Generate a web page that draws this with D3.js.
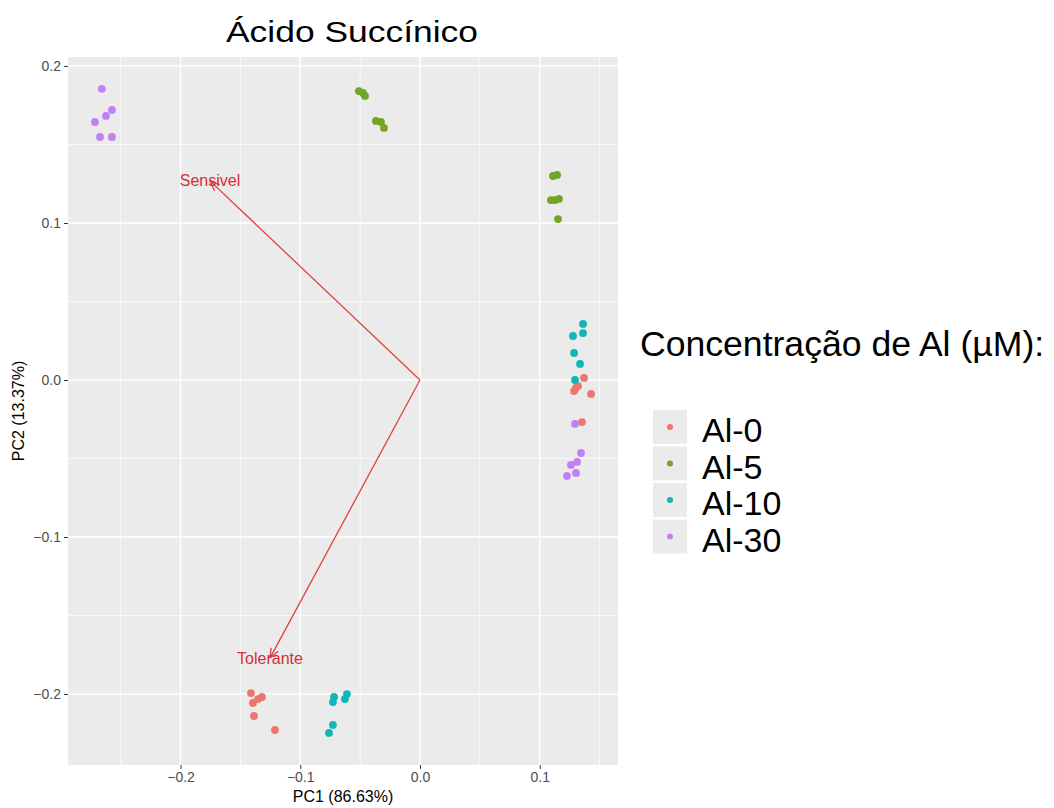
<!DOCTYPE html>
<html>
<head>
<meta charset="utf-8">
<script src="https://cdn.jsdelivr.net/npm/d3@7"></script>
<style>
  body { margin: 0; background: #fff; }
  text { font-family: "Liberation Sans", Arial, sans-serif; }
</style>
</head>
<body>
<svg id="chart" width="1054" height="808"></svg>
<script>
// Groups and colours (ggplot hues, slightly muted like the picture)
const groups = ["Al-0", "Al-5", "Al-10", "Al-30"];
const colors = ["#EC776E", "#74A524", "#12B5B8", "#C081F2"];

// PC1 / PC2 scores
const al0 = [
  [-0.1412, -0.1994], [-0.1320, -0.2019], [-0.1353, -0.2032], [-0.1395, -0.2057],
  [-0.1387, -0.2140], [-0.1211, -0.2229],
  [0.1370, 0.0013], [0.1320, -0.0038], [0.1303, -0.0051], [0.1287, -0.0070],
  [0.1429, -0.0089], [0.1353, -0.0268]
];
const al5 = [
  [-0.0510, 0.1840], [-0.0476, 0.1828], [-0.0459, 0.1809], [-0.0368, 0.1650],
  [-0.0326, 0.1643], [-0.0301, 0.1605],
  [0.1111, 0.1299], [0.1145, 0.1306], [0.1094, 0.1146], [0.1128, 0.1146],
  [0.1161, 0.1153], [0.1153, 0.1025]
];
const al10 = [
  [-0.0610, -0.2000], [-0.0627, -0.2032], [-0.0718, -0.2019], [-0.0727, -0.2051],
  [-0.0727, -0.2197], [-0.0760, -0.2248],
  [0.1362, 0.0357], [0.1362, 0.0299], [0.1278, 0.0280], [0.1287, 0.0172],
  [0.1337, 0.0102], [0.1295, 0.0000]
];
const al30 = [
  [-0.2657, 0.1854], [-0.2573, 0.1720], [-0.2623, 0.1682], [-0.2715, 0.1643],
  [-0.2673, 0.1548], [-0.2573, 0.1548],
  [0.1295, -0.0280], [0.1345, -0.0465], [0.1312, -0.0522], [0.1261, -0.0541],
  [0.1303, -0.0592], [0.1228, -0.0611]
];
const scores = [al0, al5, al10, al30];

// Variable loadings (arrows)
const varNames = ["Sensivel", "Tolerante"];
const loadings = [[-0.1754, 0.1268], [-0.1253, -0.1771]];

// Axis ticks
const xTicks = [-0.2, -0.1, 0.0, 0.1];
const yTicks = [-0.2, -0.1, 0.0, 0.1, 0.2];
const xMinor = [-0.25, -0.15, -0.05, 0.05, 0.15];
const yMinor = [-0.15, -0.05, 0.05, 0.15];

const svg = d3.select("#chart");
const panel = { left: 68, right: 618, top: 57, bottom: 765 };

const x = d3.scaleLinear().domain([-0.294, 0.1654]).range([panel.left, panel.right]);
const y = d3.scaleLinear().domain([-0.2452, 0.2057]).range([panel.bottom, panel.top]);

// Panel background
svg.append("rect")
  .attr("x", panel.left).attr("y", panel.top)
  .attr("width", panel.right - panel.left)
  .attr("height", panel.bottom - panel.top)
  .attr("fill", "#EBEBEB");

// Grid
const grid = svg.append("g");
grid.selectAll(".xminor").data(xMinor).join("line")
  .attr("x1", d => x(d)).attr("x2", d => x(d))
  .attr("y1", panel.top).attr("y2", panel.bottom)
  .attr("stroke", "#fff").attr("stroke-width", 0.7);
grid.selectAll(".yminor").data(yMinor).join("line")
  .attr("y1", d => y(d)).attr("y2", d => y(d))
  .attr("x1", panel.left).attr("x2", panel.right)
  .attr("stroke", "#fff").attr("stroke-width", 0.7);
grid.selectAll(".xmajor").data(xTicks).join("line")
  .attr("x1", d => x(d)).attr("x2", d => x(d))
  .attr("y1", panel.top).attr("y2", panel.bottom)
  .attr("stroke", "#fff").attr("stroke-width", 1.4);
grid.selectAll(".ymajor").data(yTicks).join("line")
  .attr("y1", d => y(d)).attr("y2", d => y(d))
  .attr("x1", panel.left).attr("x2", panel.right)
  .attr("stroke", "#fff").attr("stroke-width", 1.4);

// Axes
const fmt = d3.format(".1f");
const xAxis = svg.append("g")
  .attr("transform", `translate(0,${panel.bottom})`)
  .call(d3.axisBottom(x).tickValues(xTicks).tickFormat(fmt).tickSize(4).tickPadding(3));
const yAxis = svg.append("g")
  .attr("transform", `translate(${panel.left},0)`)
  .call(d3.axisLeft(y).tickValues(yTicks).tickFormat(fmt).tickSize(4).tickPadding(3));
[xAxis, yAxis].forEach(a => {
  a.select(".domain").remove();
  a.selectAll(".tick line").attr("stroke", "#333");
  a.selectAll(".tick text")
    .attr("fill", "#4D4D4D")
    .style("font-size", "14px")
    .style("font-family", "'Liberation Sans', Arial, sans-serif");
});

// Arrows
const arrowColor = "#E0443E";
svg.append("defs").append("marker")
  .attr("id", "head")
  .attr("viewBox", "0 0 10 10")
  .attr("refX", 10).attr("refY", 5)
  .attr("markerWidth", 10).attr("markerHeight", 10)
  .attr("markerUnits", "userSpaceOnUse")
  .attr("orient", "auto")
  .append("path")
  .attr("d", "M0,1 L10,5 L0,9")
  .attr("fill", "none")
  .attr("stroke", arrowColor)
  .attr("stroke-width", 1.3);

svg.append("g").selectAll("line").data(loadings).join("line")
  .attr("x1", x(0)).attr("y1", y(0))
  .attr("x2", d => x(d[0])).attr("y2", d => y(d[1]))
  .attr("stroke", arrowColor)
  .attr("stroke-width", 1.3)
  .attr("marker-end", "url(#head)");

// Points
const pts = svg.append("g");
scores.forEach((grp, i) => {
  pts.selectAll(`.g${i}`).data(grp).join("circle")
    .attr("class", `g${i}`)
    .attr("cx", d => x(d[0]))
    .attr("cy", d => y(d[1]))
    .attr("r", 3.9)
    .attr("fill", colors[i]);
});

// Arrow labels
svg.append("g").selectAll("text").data(loadings).join("text")
  .attr("x", d => x(d[0]))
  .attr("y", d => y(d[1]))
  .attr("text-anchor", "middle")
  .attr("dominant-baseline", "central")
  .attr("fill", "#D42F35")
  .style("font-size", "16px")
  .text((d, i) => varNames[i]);

// Title
svg.append("text")
  .attr("x", 352).attr("y", 42)
  .attr("text-anchor", "middle")
  .attr("textLength", 252)
  .attr("lengthAdjust", "spacingAndGlyphs")
  .style("font-size", "29px")
  .text("Ácido Succínico");

// Axis titles
svg.append("text")
  .attr("x", (panel.left + panel.right) / 2).attr("y", 802)
  .attr("text-anchor", "middle")
  .style("font-size", "16px")
  .text("PC1 (86.63%)");
svg.append("text")
  .attr("transform", `translate(24,${(panel.top + panel.bottom) / 2}) rotate(-90)`)
  .attr("text-anchor", "middle")
  .style("font-size", "16px")
  .text("PC2 (13.37%)");

// Legend
const legend = svg.append("g").attr("transform", "translate(640,0)");
legend.append("text")
  .attr("x", 0).attr("y", 356)
  .style("font-size", "35.6px")
  .text("Concentração de Al (µM):");
const items = legend.selectAll(".item").data(groups).join("g")
  .attr("class", "item")
  .attr("transform", (d, i) => `translate(0,${427 + i * 36.5})`);
items.append("rect")
  .attr("x", 13).attr("y", -17)
  .attr("width", 34).attr("height", 34)
  .attr("fill", "#EBEBEB");
items.append("circle")
  .attr("cx", 30).attr("cy", 0).attr("r", 3)
  .attr("fill", (d, i) => colors[i]);
items.append("text")
  .attr("x", 62).attr("y", 3)
  .attr("dominant-baseline", "central")
  .style("font-size", "34px")
  .text(d => d);
</script>
</body>
</html>
